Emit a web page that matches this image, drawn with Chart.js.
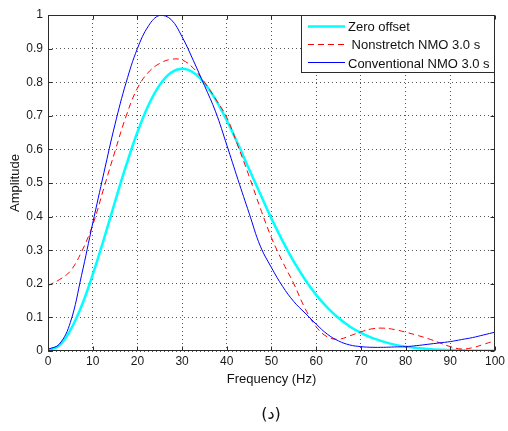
<!DOCTYPE html>
<html>
<head>
<meta charset="utf-8">
<script src="https://cdn.jsdelivr.net/npm/chart.js@4/dist/chart.umd.min.js"></script>
<style>
html,body{margin:0;padding:0;background:#fff;}
canvas{display:block;}
</style>
</head>
<body>
<canvas id="c" width="508" height="431"></canvas>
<script>
// ---- data ----
const frequency = [0,2.5,5,7.5,10,12.5,15,17.5,20,22.5,25,27.5,30,32.5,35,37.5,40,42.5,45,47.5,50,52.5,55,57.5,60,62.5,65,67.5,70,72.5,75,77.5,80,82.5,85,87.5,90,92.5,95,97.5,100];
const zeroOffset = [0.003,0.016,0.062,0.134,0.227,0.333,0.445,0.553,0.651,0.732,0.792,0.828,0.840,0.829,0.797,0.748,0.686,0.616,0.541,0.467,0.394,0.327,0.266,0.213,0.167,0.129,0.098,0.073,0.054,0.039,0.028,0.019,0.013,0.009,0.006,0.004,0.003,0.002,0.001,0.001,0.001];
const nonstretchNMO = [0.195,0.212,0.238,0.295,0.375,0.485,0.595,0.700,0.782,0.830,0.856,0.868,0.866,0.842,0.800,0.750,0.695,0.610,0.520,0.425,0.337,0.265,0.200,0.127,0.072,0.042,0.035,0.045,0.057,0.066,0.068,0.064,0.056,0.047,0.037,0.025,0.013,0.006,0.010,0.020,0.031];
const conventionalNMO = [0.005,0.020,0.085,0.225,0.380,0.530,0.675,0.800,0.900,0.968,0.999,0.987,0.935,0.865,0.790,0.712,0.613,0.510,0.410,0.312,0.248,0.192,0.147,0.113,0.080,0.050,0.030,0.018,0.013,0.011,0.011,0.012,0.013,0.016,0.020,0.024,0.028,0.034,0.040,0.048,0.056];
const seriesLabels = ['Zero offset', ' Nonstretch NMO 3.0 s', 'Conventional NMO 3.0 s'];
const xTickValues = [0,10,20,30,40,50,60,70,80,90,100];
const yTickValues = [0,0.1,0.2,0.3,0.4,0.5,0.6,0.7,0.8,0.9,1];
const xAxisTitle = 'Frequency (Hz)';
const yAxisTitle = 'Amplitude';
const caption = '(د)';

const FONT = "'Liberation Sans', Arial, Helvetica, sans-serif";

function pts(ys){ return frequency.map((f,i)=>({x:f, y:ys[i]})); }

const matlabPlugin = {
  id: 'matlabFrame',
  afterDraw(chart){
    const ctx = chart.ctx;
    const a = chart.chartArea;
    const xs = chart.scales.x, ys = chart.scales.y;
    const L = Math.round(a.left)+0.5, R = Math.round(a.right)-0.5;
    const T = Math.round(a.top)+0.5, B = Math.round(a.bottom)-0.5;
    ctx.save();
    ctx.strokeStyle = '#2b2b2b';
    ctx.lineWidth = 1;
    ctx.setLineDash([]);
    ctx.strokeRect(L, T, R-L, B-T);
    // inward ticks on all sides
    const tl = 4;
    ctx.beginPath();
    xTickValues.forEach(v=>{
      const p = Math.round(xs.getPixelForValue(v))+0.5;
      ctx.moveTo(p,B); ctx.lineTo(p,B-tl);
      ctx.moveTo(p,T); ctx.lineTo(p,T+tl);
    });
    yTickValues.forEach(v=>{
      const p = Math.round(ys.getPixelForValue(v))+0.5;
      ctx.moveTo(L,p); ctx.lineTo(L+tl,p);
      ctx.moveTo(R,p); ctx.lineTo(R-tl,p);
    });
    ctx.stroke();

    // legend box (top-right, inside axes)
    const lx0 = 301.5, ly0 = T, lx1 = R, ly1 = 72.5;
    ctx.fillStyle = '#fff';
    ctx.fillRect(lx0, ly0, lx1-lx0, ly1-ly0);
    ctx.strokeStyle = '#2b2b2b';
    ctx.strokeRect(lx0, ly0, lx1-lx0, ly1-ly0);
    const rowsLine = [26, 44, 62];
    const rowsText = [31, 49.3, 67.6];
    chart.data.datasets.forEach((ds,i)=>{
      ctx.save();
      ctx.strokeStyle = ds.borderColor;
      ctx.lineWidth = ds.borderWidth;
      ctx.setLineDash(ds.borderDash || []);
      ctx.beginPath();
      const yl = rowsLine[i] + (ds.borderWidth % 2 ? 0.5 : 0);
      ctx.moveTo(308, yl); ctx.lineTo(345, yl);
      ctx.stroke();
      ctx.restore();
      ctx.fillStyle = '#111';
      ctx.font = '13px ' + FONT;
      ctx.textAlign = 'left';
      ctx.textBaseline = 'alphabetic';
      ctx.fillText(ds.label, 348, rowsText[i]);
    });

    // caption
    ctx.fillStyle = '#111';
    ctx.font = "16px 'DejaVu Sans', 'Noto Sans', sans-serif";
    ctx.textAlign = 'center';
    ctx.textBaseline = 'middle';
    ctx.fillText(caption, 271, 415);
    ctx.restore();
  }
};

new Chart(document.getElementById('c'), {
  type: 'line',
  data: {
    datasets: [
      { label: seriesLabels[0], data: pts(zeroOffset), borderColor: '#00ffff', borderWidth: 2.5, order: 2 },
      { label: seriesLabels[1], data: pts(nonstretchNMO), borderColor: '#ff0000', borderWidth: 1, borderDash: [6,4], order: 1 },
      { label: seriesLabels[2], data: pts(conventionalNMO), borderColor: '#0000ff', borderWidth: 1, order: 0 }
    ]
  },
  options: {
    responsive: false,
    animation: false,
    devicePixelRatio: 1,
    layout: { padding: { left: 0, right: 11, top: 15, bottom: 42 } },
    elements: {
      point: { radius: 0, hoverRadius: 0 },
      line: { tension: 0.4, fill: false }
    },
    plugins: { legend: { display: false }, tooltip: { enabled: false }, title: { display: false } },
    scales: {
      x: {
        type: 'linear', min: 0, max: 100,
        afterFit(s){ s.height = 38; },
        afterBuildTicks(s){ s.ticks = xTickValues.map(v=>({value:v})); },
        ticks: { padding: 3, color: '#1a1a1a', font: { family: FONT, size: 12 }, maxRotation: 0,
                 callback: v => String(v) },
        grid: { color: '#555', lineWidth: 1, drawTicks: false },
        border: { display: false, dash: [1,3] },
        title: { display: true, text: xAxisTitle, color: '#111', font: { family: FONT, size: 13 }, padding: { top: 0, bottom: 2 } }
      },
      y: {
        type: 'linear', min: 0, max: 1,
        afterFit(s){ s.width = 48; },
        afterBuildTicks(s){ s.ticks = yTickValues.map(v=>({value:v})); },
        ticks: { padding: 5, color: '#1a1a1a', font: { family: FONT, size: 12 },
                 callback: v => String(Math.round(v*10)/10) },
        grid: { color: '#555', lineWidth: 1, drawTicks: false },
        border: { display: false, dash: [1,3] },
        title: { display: true, text: yAxisTitle, color: '#111', font: { family: FONT, size: 13 }, padding: { top: 8, bottom: 0 } }
      }
    }
  },
  plugins: [matlabPlugin]
});
</script>
</body>
</html>
